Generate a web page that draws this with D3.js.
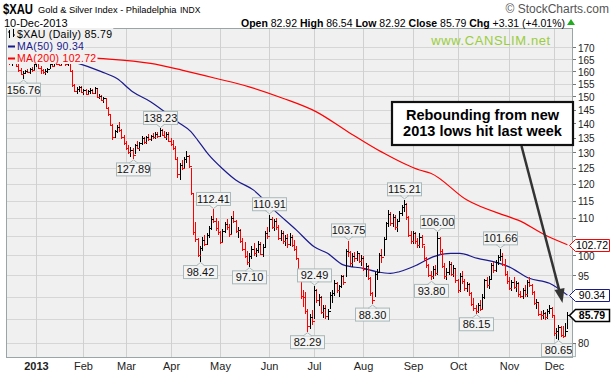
<!DOCTYPE html>
<html>
<head>
<meta charset="utf-8">
<script src="https://cdn.jsdelivr.net/npm/d3@7/dist/d3.min.js"></script>
<style>
body { margin: 0; background: #fff; }
svg { font-family: Arial, "Liberation Sans", sans-serif; }
</style>
</head>
<body>
<svg width="613" height="375"></svg>
<script>
// daily bars, [high, low, close], one array per month
const dec2012 = [[166.5,163.8,164.6],[165.0,162.6,163.2],[164.5,162.0,163.6],[164.8,162.8,163.9],[164.2,161.5,162.0],[162.8,159.8,160.4],[161.2,158.3,158.9],[160.0,156.76,159.3],[160.6,158.9,160.1],[161.0,159.2,159.8],[161.3,158.8,160.7],[161.5,159.5,160.3],[163.3,160.0,162.9]];
const jan2013 = [[164.5,161.5,163.9],[164.0,160.8,161.2],[162.0,159.0,160.5],[161.0,158.8,159.6],[160.8,158.5,160.2],[161.4,159.4,160.9],[163.5,161.0,163.0],[163.8,161.6,162.2],[164.0,161.8,163.6],[164.6,162.5,163.1],[164.4,161.9,162.4],[164.8,162.3,164.2],[165.0,163.1,163.5],[164.6,162.3,162.8],[164.3,162.0,163.9],[164.0,159.5,160.0],[160.5,153.8,154.5],[155.0,151.5,152.2],[153.5,151.0,152.9],[154.0,151.8,153.5],[154.2,151.3,151.8]];
const feb2013 = [[153.0,150.6,152.4],[152.8,150.4,150.9],[152.6,150.5,152.1],[153.2,151.0,152.6],[153.0,150.8,151.3],[153.7,151.0,153.2],[153.0,149.5,149.9],[150.8,148.9,150.2],[150.5,148.4,148.8],[149.6,147.6,149.3],[149.4,145.2,145.8],[146.0,142.8,143.3],[143.5,139.0,139.6],[139.8,134.2,135.1],[137.8,135.0,137.3],[139.5,136.5,138.9],[140.4,137.0,137.6],[138.2,134.6,135.2],[136.0,132.6,133.1]];
const mar2013 = [[134.0,130.8,131.6],[132.5,129.4,130.0],[131.8,128.5,130.9],[131.5,127.89,129.3],[132.8,129.5,132.4],[134.0,131.0,131.6],[133.5,130.6,133.2],[135.6,132.5,134.9],[135.2,132.8,133.4],[135.5,132.9,135.1],[136.2,134.0,134.5],[136.0,133.8,135.6],[136.5,134.5,135.2],[136.8,134.4,136.3],[137.0,134.9,135.5],[138.23,135.4,137.6],[138.0,135.6,136.0],[137.2,134.8,135.2],[136.9,134.2,136.4],[137.0,133.5,134.0]];
const apr2013 = [[135.0,132.2,132.8],[134.2,130.8,131.5],[132.0,127.5,128.0],[128.5,121.8,123.0],[126.5,121.2,125.8],[127.5,124.2,124.8],[128.4,124.5,127.9],[130.4,126.5,128.9],[129.2,125.0,125.6],[125.0,116.5,117.2],[117.0,105.2,106.0],[108.8,103.5,104.2],[104.5,99.5,100.2],[102.5,98.42,101.8],[104.8,101.0,103.9],[105.2,102.4,102.9],[105.8,102.6,105.2],[107.8,104.5,107.1],[110.5,106.8,109.8],[112.41,108.5,109.2],[110.0,106.5,107.3],[109.2,105.4,106.0]];
const may2013 = [[106.5,102.8,103.4],[107.0,103.5,106.5],[109.0,105.8,108.4],[109.6,106.8,107.5],[108.2,104.8,105.6],[110.6,105.5,110.0],[112.0,108.6,109.1],[109.5,105.8,106.4],[107.5,104.6,106.8],[107.0,103.2,103.8],[104.5,101.0,101.6],[103.5,99.2,99.8],[101.2,97.6,98.4],[100.5,97.10,99.9],[102.3,99.1,101.7],[103.2,99.8,100.6],[102.0,99.5,101.4],[103.6,100.5,102.9],[103.5,100.0,100.4],[102.8,99.6,102.2],[106.5,101.8,105.9],[107.5,104.2,105.0]];
const jun2013 = [[110.91,106.2,109.8],[110.3,107.0,107.6],[109.8,106.4,109.2],[110.0,106.8,107.4],[108.0,104.0,104.6],[106.8,103.8,105.8],[106.5,103.0,103.6],[105.2,102.4,104.6],[105.5,102.0,102.8],[105.8,102.5,104.9],[105.2,102.2,102.7],[104.0,101.0,101.5],[102.5,98.8,99.4],[99.0,95.4,96.0],[96.2,89.5,90.2],[91.5,87.6,89.8],[91.0,86.0,86.7],[87.2,82.29,83.4],[86.0,82.8,85.4],[87.0,83.8,84.6]];
const jul2013 = [[92.49,85.0,91.6],[91.8,88.5,89.2],[90.5,87.8,90.0],[90.2,86.0,86.5],[88.0,85.2,87.4],[88.2,85.0,85.6],[87.2,84.8,86.8],[91.0,87.2,90.4],[91.5,88.6,90.9],[93.8,90.2,93.2],[93.5,90.8,91.6],[92.8,90.0,92.4],[95.2,92.0,94.8],[95.0,92.6,93.5],[101.5,94.5,101.0],[103.75,99.5,100.8],[101.2,97.2,98.0],[100.5,97.0,99.8],[100.8,98.2,99.2],[101.0,98.5,100.5],[100.6,98.0,98.6],[100.2,97.2,99.4]];
const aug2013 = [[99.8,96.0,96.5],[98.0,94.5,97.4],[97.6,93.8,94.4],[94.6,90.2,90.8],[91.0,88.30,89.2],[95.8,89.8,95.4],[96.5,93.8,95.9],[100.5,95.8,100.1],[101.5,98.0,99.6],[104.8,99.8,104.2],[109.0,104.0,108.5],[112.2,107.5,111.0],[111.8,107.8,108.6],[111.0,107.5,110.4],[110.8,106.6,107.4],[109.8,106.2,109.2],[112.0,108.8,111.5],[113.8,110.5,113.2],[115.21,111.8,114.0],[114.2,109.5,110.2],[110.5,104.8,105.4],[106.5,102.8,103.8]];
const sep2013 = [[106.5,102.8,105.8],[106.2,103.0,103.6],[104.5,101.8,102.6],[105.8,102.0,104.9],[105.2,102.0,102.8],[102.4,98.5,99.2],[99.5,96.8,97.6],[97.8,94.6,95.2],[96.0,93.80,94.9],[97.2,94.2,96.5],[97.5,94.8,95.5],[106.0,95.0,104.6],[104.8,100.2,101.0],[101.5,96.8,97.4],[98.0,94.2,94.8],[96.8,93.9,95.9],[98.5,95.2,97.9],[98.2,94.8,95.4],[97.6,94.5,96.8],[96.5,93.2,93.8]];
const oct2013 = [[94.2,90.8,91.5],[95.5,91.0,94.8],[96.0,93.0,93.6],[94.2,91.4,92.0],[93.5,91.0,92.9],[93.2,90.2,90.8],[91.0,87.8,88.3],[89.6,86.8,87.4],[88.2,86.15,86.8],[88.6,86.4,88.2],[89.2,86.8,87.3],[90.5,87.0,89.9],[94.2,89.5,93.8],[94.5,92.0,92.6],[94.8,91.8,94.2],[98.0,94.0,97.5],[98.2,95.5,96.2],[98.8,95.8,98.4],[100.2,97.5,99.6],[101.66,98.5,99.9],[100.5,97.2,97.8],[99.0,94.8,95.3],[96.0,93.0,93.6]];
const nov2013 = [[94.5,91.5,92.0],[93.8,91.2,93.4],[94.5,91.8,92.3],[93.6,91.0,93.1],[93.4,90.0,90.6],[91.2,89.6,90.2],[92.0,89.5,91.6],[92.6,90.0,90.5],[94.0,89.8,93.5],[94.6,92.2,92.8],[93.0,90.4,91.0],[91.2,88.0,88.5],[89.4,87.2,88.8],[88.6,85.6,86.0],[86.8,84.8,85.9],[87.0,85.0,86.3],[86.6,84.7,85.4],[87.2,84.9,86.8],[88.0,86.0,87.4],[87.6,85.3,85.8]];
const dec2013 = [[85.6,81.4,82.0],[83.0,80.8,82.4],[83.8,80.65,83.2],[83.6,81.2,81.6],[83.5,80.9,81.4],[84.2,81.3,82.48],[86.54,82.92,85.79]];

// moving averages: [date, value]
const ma50 = [['2012-12-12',171.0],['2013-01-02',167.5],['2013-01-15',165.5],['2013-01-29',163.4],['2013-02-13',159.8],['2013-02-25',157.0],['2013-03-06',151.8],['2013-03-18',148.0],['2013-03-27',143.8],['2013-04-04',140.6],['2013-04-12',137.1],['2013-04-17',134.2],['2013-04-24',129.2],['2013-05-02',124.8],['2013-05-10',121.2],['2013-05-22',118.1],['2013-06-05',112.3],['2013-06-19',106.7],['2013-07-01',102.2],['2013-07-10',100.5],['2013-07-19',97.6],['2013-08-01',96.7],['2013-08-09',95.9],['2013-08-19',95.5],['2013-08-23',95.9],['2013-09-05',97.6],['2013-09-16',99.6],['2013-09-26',100.5],['2013-10-02',100.5],['2013-10-14',99.2],['2013-10-23',98.4],['2013-11-01',97.1],['2013-11-14',94.3],['2013-11-27',93.1],['2013-12-10',90.34]];
const ma200 = [['2012-12-12',167.5],['2013-01-02',166.6],['2013-02-12',165.3],['2013-03-18',163.2],['2013-04-08',160.4],['2013-04-29',157.1],['2013-05-20',153.7],['2013-06-11',149.3],['2013-07-02',144.2],['2013-07-23',137.1],['2013-08-13',130.2],['2013-09-06',124.3],['2013-09-13',123.3],['2013-10-07',115.2],['2013-11-01',110.3],['2013-11-07',109.4],['2013-11-25',105.3],['2013-12-10',102.72]];

// high / low callouts: [date, value, side]
const callouts = [['2012-12-21',156.76,'below'],['2013-03-06',127.89,'below'],['2013-03-22',138.23,'above'],['2013-04-18',98.42,'below'],['2013-04-26',112.41,'above'],['2013-05-20',97.10,'below'],['2013-06-03',110.91,'above'],['2013-06-26',82.29,'below'],['2013-07-01',92.49,'above'],['2013-07-23',103.75,'above'],['2013-08-07',88.30,'below'],['2013-08-27',115.21,'above'],['2013-09-13',93.80,'below'],['2013-09-18',106.00,'above'],['2013-10-11',86.15,'below'],['2013-10-28',101.66,'above'],['2013-12-04',80.65,'below']];

const yTicks = [80,85,90,95,100,105,110,115,120,125,130,135,140,145,150,155,160,165,170];
const monthLabels = ['2013','Feb','Mar','Apr','May','Jun','Jul','Aug','Sep','Oct','Nov','Dec'];
const holidays = ['2012-12-25','2013-01-01','2013-01-21','2013-02-18','2013-03-29','2013-05-27','2013-07-04','2013-09-02','2013-11-28'];

// trading days
const days = [];
for (let d = new Date(Date.UTC(2012,11,12)); d <= new Date(Date.UTC(2013,11,10)); d.setUTCDate(d.getUTCDate()+1)) {
  const wd = d.getUTCDay();
  const k = d.toISOString().slice(0,10);
  if (wd === 0 || wd === 6 || holidays.includes(k)) continue;
  days.push(k);
}

const bars = [...dec2012,...jan2013,...feb2013,...mar2013,...apr2013,...may2013,...jun2013,...jul2013,...aug2013,...sep2013,...oct2013,...nov2013,...dec2013]
  .map((b,i) => ({date: days[i], h: b[0], l: b[1], c: b[2]}));
bars.forEach((b,i) => b.up = i > 0 && b.c >= bars[i-1].c);

const pLeft = 6, pRight = 573, pTop = 28, pBottom = 358;

const svg = d3.select('svg');

const x = d3.scaleBand()
            .domain(days)
            .range([pLeft, pLeft + days.length * (pRight - pLeft) / (days.length + 2)]);
const cx = d => Math.round(x(d) + x.bandwidth() / 2) + 0.5;

const y = d3.scaleLog()
            .domain([76.95, 178.6])
            .range([pBottom, pTop]);

// plot background + grid
svg.append('rect')
   .attr('x', pLeft).attr('y', pTop)
   .attr('width', pRight - pLeft).attr('height', pBottom - pTop)
   .attr('fill', '#f0f0f0');

svg.append('g')
   .selectAll('line')
   .data(yTicks)
   .join('line')
   .attr('x1', pLeft).attr('x2', pRight)
   .attr('y1', d => Math.round(y(d)) + 0.5).attr('y2', d => Math.round(y(d)) + 0.5)
   .attr('stroke', '#d6d6d6');

const monthStarts = days.filter((d,i) => d >= '2013' && (i === 0 || d.slice(5,7) !== days[i-1].slice(5,7)));

svg.append('g')
   .selectAll('line')
   .data(monthStarts)
   .join('line')
   .attr('x1', d => cx(d)).attr('x2', d => cx(d))
   .attr('y1', pTop).attr('y2', pBottom)
   .attr('stroke', '#d0d0d0');

// moving averages
const line = d3.line()
               .x(d => x(d[0]) + x.bandwidth() / 2)
               .y(d => y(d[1]))
               .curve(d3.curveMonotoneX);

svg.append('path').datum(ma200)
   .attr('d', line).attr('fill', 'none').attr('stroke', '#ff0000').attr('stroke-width', 1.2);
svg.append('path').datum(ma50)
   .attr('d', line).attr('fill', 'none').attr('stroke', '#1a1a8c').attr('stroke-width', 1.2);

// price bars
const barG = svg.append('g').attr('shape-rendering', 'crispEdges');
barG.selectAll('line.hl')
    .data(bars)
    .join('line')
    .attr('x1', d => cx(d.date)).attr('x2', d => cx(d.date))
    .attr('y1', d => y(d.h)).attr('y2', d => y(d.l))
    .attr('stroke', d => d.up ? '#000' : '#ff0000');
barG.selectAll('line.cl')
    .data(bars)
    .join('line')
    .attr('x1', d => cx(d.date)).attr('x2', d => cx(d.date) + 2)
    .attr('y1', d => Math.round(y(d.c)) + 0.5).attr('y2', d => Math.round(y(d.c)) + 0.5)
    .attr('stroke', d => d.up ? '#000' : '#ff0000');

// callouts
const cg = svg.append('g');
callouts.forEach(([d, v, side]) => {
  const px = cx(d);
  const py = y(v);
  const w = 34, h = 13;
  const g = cg.append('g');
  const by = side === 'above' ? py - 4 - h : py + 4;
  const tip = side === 'above' ? `M${px-4},${by+h}L${px},${py-1}L${px+4},${by+h}` : `M${px-4},${by}L${px},${py+1}L${px+4},${by}`;
  g.append('rect')
   .attr('x', px - w/2).attr('y', by)
   .attr('width', w).attr('height', h)
   .attr('fill', '#f4f4f4').attr('stroke', '#a9b8b8');
  g.append('path').attr('d', tip + 'Z').attr('fill', '#f4f4f4').attr('stroke', '#a9b8b8');
  g.append('line').attr('x1', px - 3).attr('x2', px + 3)
   .attr('y1', side === 'above' ? by + h : by).attr('y2', side === 'above' ? by + h : by)
   .attr('stroke', '#f4f4f4');
  g.append('text')
   .attr('x', px).attr('y', by + 10.5)
   .attr('text-anchor', 'middle')
   .attr('font-size', 11).attr('fill', '#111')
   .text(v.toFixed(2));
});

// frame
svg.append('rect')
   .attr('x', pLeft + 0.5).attr('y', pTop + 0.5)
   .attr('width', pRight - pLeft - 1).attr('height', pBottom - pTop - 1)
   .attr('fill', 'none').attr('stroke', '#9aa5a5');

// last-value tags
const last = bars[bars.length - 1];
const tags = [[ma200[ma200.length-1][1], '#ff0000', 'normal'], [ma50[ma50.length-1][1], '#1a1a8c', 'normal'], [last.c, '#000', 'bold']];

// right axis (labels hidden behind a value tag are left out, as in the original)
const ax = svg.append('g');
ax.selectAll('line')
  .data(yTicks)
  .join('line')
  .attr('x1', pRight).attr('x2', pRight + 3)
  .attr('y1', d => Math.round(y(d)) + 0.5).attr('y2', d => Math.round(y(d)) + 0.5)
  .attr('stroke', '#777');
ax.selectAll('text')
  .data(yTicks.filter(t => tags.every(g => Math.abs(y(t) - y(g[0])) > 9)))
  .join('text')
  .attr('x', pRight + 5).attr('y', d => y(d) + 4.5)
  .attr('font-size', 10).attr('fill', '#222')
  .text(d => d);

tags.forEach(([v, col, fw]) => {
  const ty = Math.round(y(v)) + 0.5;
  svg.append('path')
     .attr('d', `M569.5,${ty}L575.5,${ty-6}L609.5,${ty-6}L609.5,${ty+6}L575.5,${ty+6}Z`)
     .attr('fill', '#fff').attr('stroke', col).attr('stroke-width', fw === 'bold' ? 1.5 : 1);
  svg.append('text')
     .attr('x', 592).attr('y', ty + 3)
     .attr('text-anchor', 'middle')
     .attr('font-size', 10.5).attr('font-weight', fw)
     .attr('fill', '#000')
     .text(v.toFixed(2));
});

// month labels
svg.append('g')
   .selectAll('text')
   .data(monthStarts)
   .join('text')
   .attr('x', d => cx(d)).attr('y', 370)
   .attr('text-anchor', 'middle')
   .attr('font-size', 11)
   .attr('font-weight', (d,i) => i === 0 ? 'bold' : 'normal')
   .attr('fill', '#222')
   .text((d,i) => monthLabels[i]);

// legend
const legend = [['$XAU (Daily) ' + last.c.toFixed(2), '#000', 34], ['MA(50) ' + ma50[ma50.length-1][1].toFixed(2), '#1a1a8c', 46], ['MA(200) ' + ma200[ma200.length-1][1].toFixed(2), '#ff0000', 58]];
legend.forEach(([t, col, ly], i) => {
  const bg = svg.append('rect').attr('fill', '#f0f0f0');
  const txt = svg.append('text')
     .attr('x', 17).attr('y', ly + 4)
     .attr('font-size', 10.5).attr('letter-spacing', 0.3).attr('fill', col)
     .text(t);
  const bb = txt.node().getBBox();
  bg.attr('x', 7).attr('y', ly - 6).attr('width', bb.x + bb.width - 6).attr('height', 12);
  if (i === 0) {
    svg.append('path')
       .attr('d', `M9.5,${ly-4}V${ly+4}M8,${ly-2}H9.5M13.5,${ly-5}V${ly+3}M13.5,${ly+1}H15`)
       .attr('stroke', '#000').attr('fill', 'none');
  } else {
    svg.append('line')
       .attr('x1', 8).attr('x2', 15).attr('y1', ly + 0.5).attr('y2', ly + 0.5)
       .attr('stroke', col).attr('stroke-width', 2);
  }
});

// watermark
svg.append('text')
   .attr('x', 491).attr('y', 45)
   .attr('text-anchor', 'middle')
   .attr('font-size', 13).attr('letter-spacing', 0.6)
   .attr('fill', '#9acd3c')
   .text('www.CANSLIM.net');

// annotation
svg.append('line')
   .attr('x1', 521.5).attr('y1', 146).attr('x2', 560).attr('y2', 293)
   .attr('stroke', '#333').attr('stroke-width', 2.5);
svg.append('path')
   .attr('d', 'M562.5,303L554.5,290L564.5,288Z')
   .attr('fill', '#333');
svg.append('rect')
   .attr('x', 392).attr('y', 102)
   .attr('width', 181).attr('height', 43)
   .attr('fill', '#fff').attr('stroke', '#111').attr('stroke-width', 2.2);
svg.append('text')
   .attr('x', 482.5).attr('y', 120)
   .attr('text-anchor', 'middle').attr('font-size', 14.5).attr('font-weight', 'bold')
   .text('Rebounding from new');
svg.append('text')
   .attr('x', 482.5).attr('y', 136)
   .attr('text-anchor', 'middle').attr('font-size', 14.5).attr('font-weight', 'bold')
   .text('2013 lows hit last week');

// header
svg.append('text').attr('x', 3).attr('y', 13.5)
   .attr('font-size', 14).attr('font-weight', 'bold')
   .attr('textLength', 30).attr('lengthAdjust', 'spacingAndGlyphs')
   .text('$XAU');
svg.append('text').attr('x', 38).attr('y', 13)
   .attr('font-size', 9.3)
   .text('Gold & Silver Index - Philadelphia');
svg.append('text').attr('x', 180).attr('y', 13)
   .attr('font-size', 8.5).text('INDX');
svg.append('text').attr('x', 609).attr('y', 13)
   .attr('text-anchor', 'end').attr('font-size', 12).attr('fill', '#555')
   .text('\u00A9 StockCharts.com');
svg.append('text').attr('x', 4).attr('y', 26.5)
   .attr('font-size', 11).text('10-Dec-2013');

const info = svg.append('text').attr('x', 565).attr('y', 26.5)
                .attr('text-anchor', 'end').attr('font-size', 10.5);
[['Open', ' 82.92 '], ['High', ' 86.54 '], ['Low', ' 82.92 '], ['Close', ' 85.79 '], ['Chg', ' +3.31 (+4.01%)']].forEach(([k, v]) => {
  info.append('tspan').attr('font-weight', 'bold').text(k);
  info.append('tspan').text(v);
});
svg.append('path').attr('d', 'M567,25L571,19L575,25Z').attr('fill', '#22aa22');
</script>
</body>
</html>
